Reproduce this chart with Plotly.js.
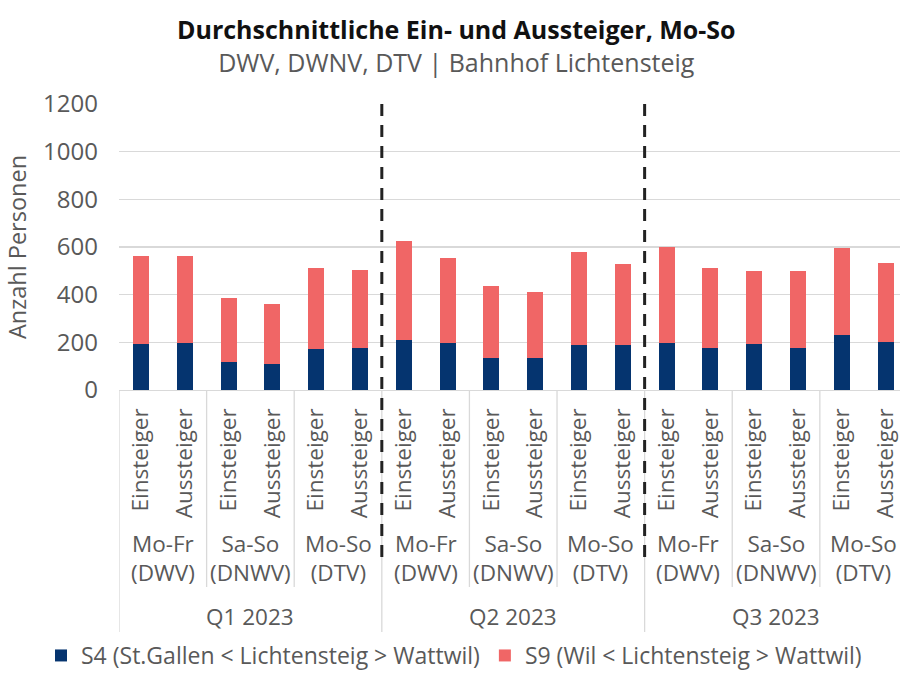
<!DOCTYPE html>
<html>
<head>
<meta charset="utf-8">
<script src="https://cdn.plot.ly/plotly-3.0.1.min.js"></script>
<style>html,body{margin:0;padding:0;background:#fff;}#chart{width:900px;height:678px;}</style>
</head>
<body>
<div id="chart"></div>
<script>
// ---- data ----
const quarters = ['Q1 2023', 'Q2 2023', 'Q3 2023'];
const periods = ['Mo-Fr<br>(DWV)', 'Sa-So<br>(DNWV)', 'Mo-So<br>(DTV)'];
const directions = ['Einsteiger', 'Aussteiger'];
const s4Name = 'S4 (St.Gallen &lt; Lichtensteig &gt; Wattwil)';
const s9Name = 'S9 (Wil &lt; Lichtensteig &gt; Wattwil)';
const s4 = [192, 198, 117, 108, 170, 177, 211, 197, 136, 136, 189, 189, 197, 177, 191, 177, 230, 202];
const s9 = [369, 363, 269, 251, 342, 328, 416, 356, 302, 275, 391, 339, 404, 335, 309, 323, 365, 331];

// ---- build categories ----
const cats = [], tickText = [];
quarters.forEach(q => periods.forEach(p => directions.forEach(d => {
  cats.push(q + '|' + p.replace('<br>', ' ') + '|' + d);
  tickText.push(d);
})));

const gray = '#595959';
const lineGray = '#d9d9d9';
const font = 'Open Sans, Noto Sans, sans-serif';

const traces = [
  {type: 'bar', name: s4Name, x: cats, y: s4, marker: {color: '#05346f'}, hoverinfo: 'skip'},
  {type: 'bar', name: s9Name, x: cats, y: s9, marker: {color: '#f06666'}, hoverinfo: 'skip'}
];

// layout geometry
const H = 678, mt = 104, mb = 288, ml = 119;
const plotH = H - mt - mb;
const plotW = 900 - ml;
const py = px => -(px) / plotH; // px below the x axis -> paper y

const nPer = directions.length;
const nQ = periods.length * nPer;
const annotations = [], shapes = [];

periods.forEach((p, pi) => quarters.forEach((q, qi) => {
  annotations.push({
    text: p, xref: 'x', yref: 'paper', x: qi * nQ + pi * nPer + (nPer - 1) / 2, y: py(168),
    xanchor: 'center', yanchor: 'middle', showarrow: false,
    font: {size: 22.5, color: gray, family: font}
  });
}));
quarters.forEach((q, qi) => {
  annotations.push({
    text: q, xref: 'x', yref: 'paper', x: qi * nQ + (nQ - 1) / 2, y: py(226),
    xanchor: 'center', yanchor: 'middle', showarrow: false,
    font: {size: 22.5, color: gray, family: font}
  });
});
// group separators
quarters.forEach((q, qi) => periods.forEach((p, pi) => {
  const xb = qi * nQ + pi * nPer - 0.5;
  const deep = pi === 0;
  shapes.push({type: 'line', xref: 'x', yref: 'paper', x0: xb, x1: xb, y0: 0, y1: py(deep ? 242 : 197),
    line: {color: lineGray, width: 1.3}});
}));
// dashed quarter dividers
quarters.slice(1).forEach((q, qi) => {
  const xb = (qi + 1) * nQ - 0.5;
  shapes.push({type: 'line', xref: 'x', yref: 'paper', x0: xb, x1: xb, y0: 1, y1: py(174),
    line: {color: '#222', width: 3, dash: '12px,9px'}});
});

const layout = {
  width: 900, height: H,
  margin: {l: ml, r: 0, t: mt, b: mb},
  paper_bgcolor: '#fff', plot_bgcolor: '#fff',
  font: {family: font, color: gray},
  barmode: 'stack',
  bargap: 0.635,
  showlegend: true,
  title: {
    text: '<b>Durchschnittliche Ein- und Aussteiger, Mo-So</b><br><span style="color:#595959">DWV, DWNV, DTV | Bahnhof Lichtensteig</span>',
    xref: 'container', x: 0.507, xanchor: 'center',
    yref: 'container', y: 1 - 39 / H, yanchor: 'middle',
    font: {family: font, size: 25, color: '#111'}
  },
  xaxis: {
    type: 'category', categoryorder: 'array', categoryarray: cats,
    tickvals: cats, ticktext: tickText, tickangle: -90,
    range: [-0.5, 17.33], showgrid: false, zeroline: false,
    showline: true, linecolor: lineGray, linewidth: 1.3,
    ticks: '', ticklabelstandoff: 8,
    tickfont: {size: 22.5, color: gray, family: font},
    fixedrange: true
  },
  yaxis: {
    range: [0, 1200], tickvals: [0, 200, 400, 600, 800, 1000, 1200],
    showgrid: true, gridcolor: lineGray, gridwidth: 1.3, zeroline: false,
    ticks: '', ticklabelstandoff: 20,
    tickfont: {size: 24, color: gray, family: font},
    title: {text: 'Anzahl Personen', standoff: 9, font: {size: 23.5, color: gray, family: font}},
    fixedrange: true
  },
  legend: {
    orientation: 'h', xref: 'paper', yref: 'paper',
    x: (41 - ml) / plotW, xanchor: 'left', y: py(677 - (H - mb)), yanchor: 'bottom',
    font: {size: 23, color: gray, family: font}, traceorder: 'normal',
    itemclick: false, itemdoubleclick: false
  },
  annotations: annotations,
  shapes: shapes
};

Plotly.newPlot('chart', traces, layout, {displayModeBar: false, staticPlot: true});
</script>
</body>
</html>
